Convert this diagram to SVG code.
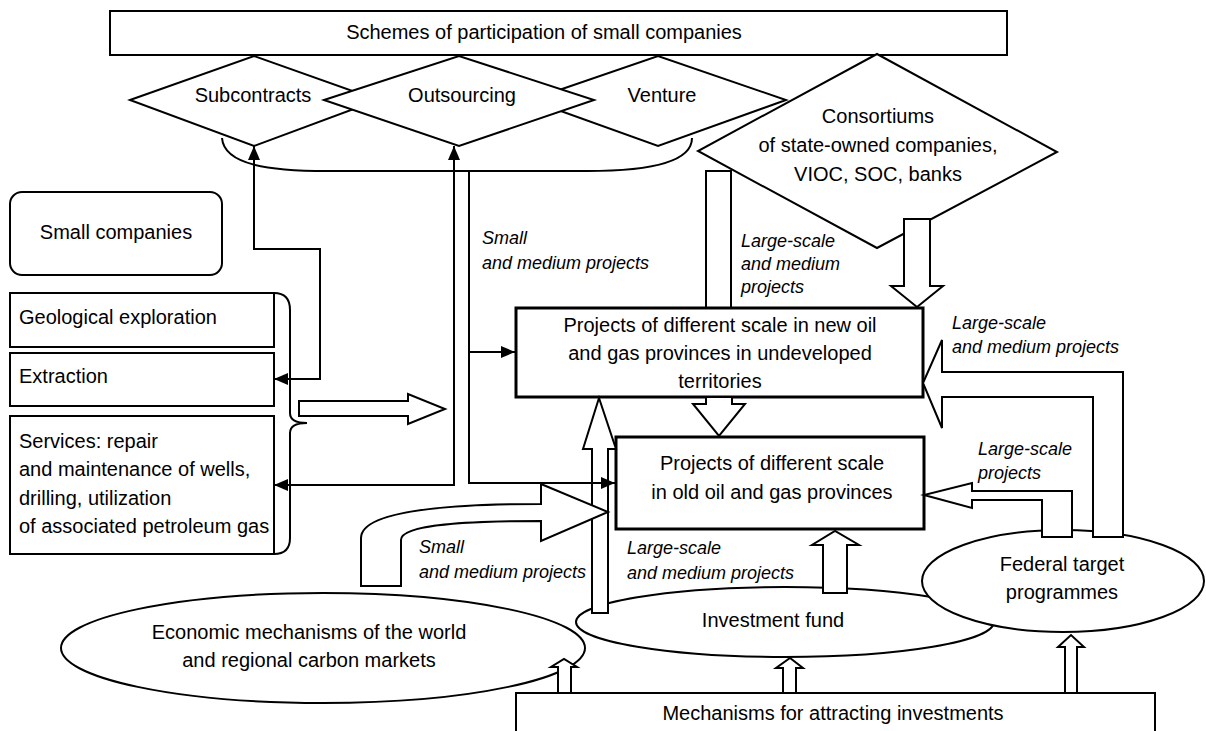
<svg xmlns="http://www.w3.org/2000/svg" width="1206" height="731" viewBox="0 0 1206 731">
<style>
text{font-family:"Liberation Sans",Arial,sans-serif;font-size:20px;fill:#000}
.c{text-anchor:middle}
.i{font-style:italic;font-size:18px}
.s{fill:#fff;stroke:#000;stroke-width:2}
.b{fill:#fff;stroke:#000;stroke-width:3}
.h{fill:#fff;stroke:#000;stroke-width:2;stroke-linejoin:miter}
.ln{fill:none;stroke:#000;stroke-width:2}
</style>
<defs>
<marker id="ah" markerUnits="userSpaceOnUse" markerWidth="14" markerHeight="12" refX="14" refY="6" orient="auto-start-reverse">
<path d="M0,0 L14,6 L0,12 Z" fill="#000"/>
</marker>
</defs>
<rect width="1206" height="731" fill="#fff"/>

<g id="schemes">
<rect class="s" x="110" y="11" width="897" height="44"/>
<text class="c" x="544" y="39">Schemes of participation of small companies</text>
</g>
<g id="subcontracts">
<polygon class="s" points="130,100 254,56 378,100 254,146"/>
<text class="c" x="253" y="102">Subcontracts</text>
</g>
<g id="venture">
<polygon class="s" points="530,100 658,56 786,100 658,146"/>
<text class="c" x="662" y="102">Venture</text>
</g>
<g id="outsourcing">
<polygon class="s" points="324,100 459,56 594,100 459,146"/>
<text class="c" x="462" y="102">Outsourcing</text>
</g>
<g id="scheme-bracket">
<path class="ln" d="M222,138 C224,165 270,171 327,171 L587,171 C650,171 692,162 692,138"/>
</g>

<g id="consortium-column">
<path class="h" d="M706,308 L706,171 L731,171 L731,308"/>
</g>
<g id="consortiums">
<polygon class="s" points="877,54 1057,152 877,248 698,151"/>
<text class="c" x="878" y="123">Consortiums</text>
<text class="c" x="878" y="152">of state-owned companies,</text>
<text class="c" x="878" y="181">VIOC, SOC, banks</text>
</g>
<g id="consortium-arrow">
<polygon class="h" points="904,219 930,219 930,286 943,286 917,307 891,286 904,286"/>
</g>

<g id="small-companies">
<rect class="s" x="10" y="192" width="212" height="83" rx="12"/>
<text class="c" x="116" y="239">Small companies</text>
</g>
<g id="geological">
<rect class="s" x="10" y="293" width="264" height="54"/>
<text x="19" y="324">Geological exploration</text>
</g>
<g id="extraction">
<rect class="s" x="10" y="353" width="264" height="53"/>
<text x="19" y="383">Extraction</text>
</g>
<g id="services">
<rect class="s" x="10" y="416" width="264" height="138"/>
<text x="19" y="448">Services: repair</text>
<text x="19" y="476">and maintenance of wells,</text>
<text x="19" y="505">drilling, utilization</text>
<text x="19" y="533">of associated petroleum gas</text>
</g>
<g id="brace">
<path class="ln" d="M274,293 Q290,293 290,310 L290,413 Q290,423 307,423 Q290,423 290,433 L290,538 Q290,554 274,554"/>
</g>

<g id="new-provinces">
<rect class="b" x="516" y="308" width="407" height="89"/>
<text class="c" x="720" y="332">Projects of different scale in new oil</text>
<text class="c" x="720" y="360">and gas provinces in undeveloped</text>
<text class="c" x="720" y="388">territories</text>
</g>
<g id="old-provinces">
<rect class="b" x="616" y="437" width="308" height="92"/>
<text class="c" x="772" y="470">Projects of different scale</text>
<text class="c" x="772" y="499">in old oil and gas provinces</text>
</g>

<g id="economic">
<ellipse class="s" cx="323" cy="648" rx="262" ry="55"/>
<text class="c" x="309" y="639">Economic mechanisms of the world</text>
<text class="c" x="309" y="667">and regional carbon markets</text>
</g>
<g id="investment-fund">
<ellipse class="s" cx="785" cy="622" rx="209" ry="35"/>
<text class="c" x="773" y="627">Investment fund</text>
</g>
<g id="federal">
<ellipse class="s" cx="1063" cy="581" rx="141" ry="51"/>
<text class="c" x="1062" y="571">Federal target</text>
<text class="c" x="1062" y="599">programmes</text>
</g>
<g id="mechanisms">
<rect class="s" x="516" y="693" width="639" height="50"/>
<text class="c" x="833" y="720">Mechanisms for attracting investments</text>
</g>

<g id="connectors">
<polygon class="h" points="299,401 408,401 408,394 445,409 408,424 408,416 299,416"/>
<polygon class="h" points="706,397 706,404 693,404 719,436 745,404 732,404 732,397"/>
<polygon class="h" points="592,613 592,449 583,449 599,398 616,449 608,449 608,613"/>
<path class="h" d="M541,484 L608,512 L541,541 L541,521 C470,521 401,524 401,540 L401,586 L361,586 L361,538 C361,512 440,504 541,504 Z"/>
<polygon class="h" points="823,593 823,545 812,545 835,531 859,545 847,545 847,593"/>
<polygon class="h" points="1093,537 1093,397 942,397 942,428 923,383 942,340 942,372 1123,372 1123,537"/>
<polygon class="h" points="1042,537 1042,500 972,500 972,508 924,495 972,483 972,491 1072,491 1072,537"/>
<polygon class="h" points="558,693 558,667 551,667 564,659 577,667 571,667 571,693"/>
<polygon class="h" points="783,693 783,668 776,668 790,658 803,668 796,668 796,693"/>
<polygon class="h" points="1065,693 1065,647 1058,647 1071,635 1084,647 1077,647 1077,693"/>
<path class="ln" d="M254,146 L254,249 L320,249 L320,379 L274,379" marker-start="url(#ah)" marker-end="url(#ah)"/>
<path class="ln" d="M454,146 L454,485 L274,485" marker-start="url(#ah)" marker-end="url(#ah)"/>
<path class="ln" d="M469,171 L469,483 L615,483" marker-end="url(#ah)"/>
<path class="ln" d="M469,352 L515,352" marker-end="url(#ah)"/>
</g>

<g id="labels">
<text class="i" x="482" y="244">Small</text>
<text class="i" x="482" y="269">and medium projects</text>
<text class="i" x="741" y="247">Large-scale</text>
<text class="i" x="741" y="270">and medium</text>
<text class="i" x="741" y="293">projects</text>
<text class="i" x="952" y="329">Large-scale</text>
<text class="i" x="952" y="353">and medium projects</text>
<text class="i" x="978" y="455">Large-scale</text>
<text class="i" x="978" y="479">projects</text>
<text class="i" x="419" y="553">Small</text>
<text class="i" x="419" y="578">and medium projects</text>
<text class="i" x="627" y="554">Large-scale</text>
<text class="i" x="627" y="579">and medium projects</text>
</g>
</svg>
